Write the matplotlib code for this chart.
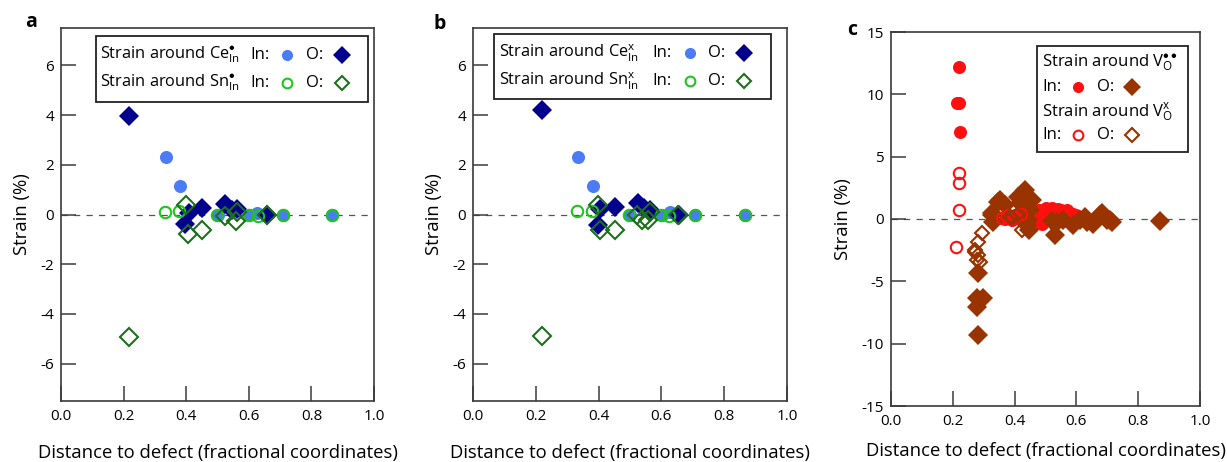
import matplotlib
matplotlib.use("Agg")
import matplotlib.pyplot as plt
from matplotlib.lines import Line2D
from matplotlib.patches import Rectangle

FONT = 'Open Sans'
plt.rcParams['font.family'] = [FONT, 'DejaVu Sans']
plt.rcParams['mathtext.fontset'] = 'custom'
plt.rcParams['mathtext.rm'] = FONT
plt.rcParams['mathtext.it'] = FONT + ':italic'
plt.rcParams['axes.unicode_minus'] = False

# ---------------- data ----------------
# Panel a : Ce'In / Sn'In (charged)
a_ce_in_x = [0.334, 0.380, 0.500, 0.600, 0.627, 0.708, 0.865]
a_ce_in_y = [2.30, 1.15, 0.00, 0.00, 0.08, 0.00, 0.00]
a_ce_o_x = [0.218, 0.396, 0.410, 0.450, 0.525, 0.545, 0.563, 0.657]
a_ce_o_y = [3.95, -0.38, 0.05, 0.25, 0.42, 0.20, 0.22, -0.03]
a_sn_in_x = [0.332, 0.377, 0.497, 0.600, 0.628, 0.708, 0.867]
a_sn_in_y = [0.09, 0.16, -0.03, 0.00, -0.06, 0.00, 0.00]
a_sn_o_x = [0.218, 0.398, 0.405, 0.451, 0.525, 0.563, 0.560, 0.658]
a_sn_o_y = [-4.92, 0.38, -0.77, -0.62, -0.06, 0.10, -0.26, -0.03]

# Panel b : Ce x In / Sn x In (neutral)
b_ce_in_x = [0.333, 0.381, 0.500, 0.601, 0.627, 0.707, 0.866]
b_ce_in_y = [2.31, 1.15, 0.00, 0.00, 0.10, 0.00, 0.00]
b_ce_o_x = [0.219, 0.399, 0.404, 0.452, 0.526, 0.545, 0.564, 0.655]
b_ce_o_y = [4.20, -0.42, 0.22, 0.30, 0.45, 0.25, 0.20, -0.03]
b_sn_in_x = [0.332, 0.378, 0.497, 0.600, 0.625, 0.707, 0.866]
b_sn_in_y = [0.13, 0.13, 0.00, 0.00, -0.05, 0.00, 0.00]
b_sn_o_x = [0.219, 0.397, 0.404, 0.452, 0.523, 0.537, 0.564, 0.558, 0.654]
b_sn_o_y = [-4.87, 0.38, -0.62, -0.63, -0.03, -0.23, 0.10, -0.23, 0.00]

# Panel c : V_O.. / V_O x
c_vc_in_x = [0.221, 0.213, 0.221, 0.223,
             0.37, 0.38, 0.39, 0.40, 0.41, 0.42, 0.43, 0.44, 0.45, 0.46,
             0.47, 0.48, 0.49, 0.50, 0.50, 0.51, 0.51, 0.52, 0.52, 0.53,
             0.53, 0.54, 0.54, 0.55, 0.55, 0.56, 0.56, 0.57, 0.57, 0.58,
             0.58, 0.59, 0.60, 0.62, 0.64, 0.47, 0.49, 0.45]
c_vc_in_y = [12.16, 9.30, 9.30, 6.97,
             0.0, 0.2, -0.1, 0.3, 0.1, 0.4, -0.2, 0.5, 0.2, 0.6,
             0.3, 0.7, 0.1, 0.9, 0.4, 0.8, 0.2, 0.9, 0.5, 0.7,
             0.0, 0.8, 0.3, 0.7, 0.1, 0.6, 0.3, 0.7, 0.0, 0.5,
             0.2, 0.4, 0.3, 0.1, 0.0, -0.3, -0.4, 0.0]
c_vc_o_x = [0.283, 0.277, 0.299, 0.277, 0.283,
            0.326, 0.328, 0.331, 0.347, 0.353, 0.369, 0.412, 0.417, 0.428,
            0.434, 0.450, 0.455, 0.439, 0.444, 0.448, 0.520, 0.531, 0.536,
            0.558, 0.590, 0.612, 0.628, 0.633, 0.655, 0.676, 0.682, 0.698,
            0.709, 0.714, 0.871]
c_vc_o_y = [-4.37, -6.30, -6.30, -7.05, -9.33,
            0.32, 0.46, -0.22, 1.39, 1.53, 1.13, 1.80, 1.26, 2.07,
            2.33, 0.72, 1.53, -0.48, -0.08, -0.88, -0.20, -1.29, -0.22,
            -0.08, -0.48, -0.08, 0.18, -0.22, -0.40, 0.32, 0.46, -0.08,
            -0.08, -0.22, -0.13]
c_vx_in_x = [0.221, 0.221, 0.220, 0.210, 0.36, 0.38, 0.40, 0.42]
c_vx_in_y = [3.72, 2.92, 0.72, -2.23, 0.10, 0.30, 0.20, 0.40]
c_vx_o_x = [0.293, 0.283, 0.272, 0.283, 0.277, 0.288, 0.272,
            0.423, 0.385, 0.407, 0.390]
c_vx_o_y = [-1.15, -1.82, -2.49, -2.89, -3.30, -3.43, -2.63,
            -0.88, 0.18, 0.32, 0.05]

x_ticks = [0.0, 0.2, 0.4, 0.6, 0.8, 1.0]
ab_yticks = [-6, -4, -2, 0, 2, 4, 6]
c_yticks = [-15, -10, -5, 0, 5, 10, 15]

# ---------------- styles ----------------
LBLUE = '#4b7bf5'
NAVY = '#00008c'
LGREEN = '#1fc41f'
DGREEN = '#1e6e1e'
RED = '#ff1010'
BROWN = '#993300'
SPINE = '#3a3a3a'

W, H = 1227, 462
fig = plt.figure(figsize=(W / 100, H / 100), dpi=100)


def fx(px):
    return px / W


def fy(py):
    return 1 - py / H


def make_ax(l, r, t, b):
    return fig.add_axes([fx(l), fy(b), fx(r) - fx(l), fy(t) - fy(b)])


def style_ax(ax, ylim, yticks, xlabelpad=14):
    ax.set_xlim(0, 1)
    ax.set_ylim(*ylim)
    ax.set_xticks(x_ticks)
    ax.set_xticklabels([f"{v:.1f}" for v in x_ticks])
    ax.set_yticks(yticks)
    ax.set_yticklabels([str(v) for v in yticks])
    ax.tick_params(direction='in', length=10.5, width=1.1, color=SPINE,
                   labelsize=11, top=False, right=False, pad=5)
    ax.tick_params(axis='x', pad=6)
    for s in ax.spines.values():
        s.set_color(SPINE)
        s.set_linewidth(1.2)
    ax.axhline(0, color='#555555', lw=0.9, ls=(0, (5, 5)), zorder=1)
    ax.set_xlabel('Distance to defect (fractional coordinates)', fontsize=13.3,
                  labelpad=xlabelpad)
    ax.set_ylabel('Strain (%)', fontsize=13.3, labelpad=7)


def circ(ax, x, y, filled, color, ms=9.4, **kw):
    if filled:
        ax.plot(x, y, 'o', ms=ms, mfc=color, mec=color, mew=0, ls='none', **kw)
    else:
        ax.plot(x, y, 'o', ms=ms - 1.2, mfc='none', mec=color, mew=1.5, ls='none', **kw)


def diam(ax, x, y, filled, color, ms=10.5, **kw):
    if filled:
        ax.plot(x, y, 'D', ms=ms, mfc=color, mec=color, mew=0, ls='none', **kw)
    else:
        ax.plot(x, y, 'D', ms=ms - 1.5, mfc='none', mec=color, mew=1.5, ls='none', **kw)


def fig_marker(px, py, marker, filled, color, ms):
    if filled:
        ln = Line2D([fx(px)], [fy(py)], marker=marker, ms=ms, mfc=color, mec=color,
                    mew=0, ls='none', transform=fig.transFigure, zorder=8)
    else:
        ln = Line2D([fx(px)], [fy(py)], marker=marker, ms=ms, mfc='none', mec=color,
                    mew=1.5, ls='none', transform=fig.transFigure, zorder=8)
    fig.add_artist(ln)


def fig_text(px, py, s, fs=12, **kw):
    fig.text(fx(px), fy(py), s, va='center', ha='left', fontsize=fs, zorder=8, **kw)


def fig_box(l, t, r, b):
    fig.add_artist(Rectangle((fx(l), fy(b)), fx(r) - fx(l), fy(t) - fy(b),
                             transform=fig.transFigure, fill=True, fc='white',
                             ec='#222222', lw=1.3, zorder=5))


# ---------------- panel a ----------------
ax_a = make_ax(61, 374, 28, 401)
style_ax(ax_a, (-7.5, 7.5), ab_yticks)
circ(ax_a, a_ce_in_x, a_ce_in_y, True, LBLUE, zorder=3)
diam(ax_a, a_ce_o_x, a_ce_o_y, True, NAVY, zorder=4)
circ(ax_a, a_sn_in_x, a_sn_in_y, False, LGREEN, zorder=5)
diam(ax_a, a_sn_o_x, a_sn_o_y, False, DGREEN, zorder=6)

# ---------------- panel b ----------------
ax_b = make_ax(473, 787, 28, 401)
style_ax(ax_b, (-7.5, 7.5), ab_yticks)
circ(ax_b, b_ce_in_x, b_ce_in_y, True, LBLUE, zorder=3)
diam(ax_b, b_ce_o_x, b_ce_o_y, True, NAVY, zorder=4)
circ(ax_b, b_sn_in_x, b_sn_in_y, False, LGREEN, zorder=5)
diam(ax_b, b_sn_o_x, b_sn_o_y, False, DGREEN, zorder=6)

# ---------------- panel c ----------------
ax_c = make_ax(891, 1200, 32, 406)
style_ax(ax_c, (-15, 15), c_yticks, xlabelpad=9)
circ(ax_c, c_vc_in_x, c_vc_in_y, True, RED, ms=9.4, zorder=3)
diam(ax_c, c_vc_o_x, c_vc_o_y, True, BROWN, ms=10.5, zorder=4)
circ(ax_c, c_vx_in_x, c_vx_in_y, False, RED, ms=9.4, zorder=5)
diam(ax_c, c_vx_o_x, c_vx_o_y, False, BROWN, ms=9, zorder=6)

# panel letters
fig.text(fx(31), fy(22), 'a', fontsize=14, fontweight='bold', ha='center', va='center')
fig.text(fx(440), fy(24), 'b', fontsize=14, fontweight='bold', ha='center', va='center')
fig.text(fx(852), fy(30), 'c', fontsize=14, fontweight='bold', ha='center', va='center')

# ---------------- legends ----------------
# a
fig_box(96, 36, 368, 102)
fig_text(100, 55, r'Strain around Ce$^{\bullet}_{\mathrm{In}}$', fs=11.8)
fig_text(100, 83, r'Strain around Sn$^{\bullet}_{\mathrm{In}}$', fs=11.8)
for py, cf, cc, df, dc in [(55, True, LBLUE, True, NAVY), (83, False, LGREEN, False, DGREEN)]:
    fig_text(250, py, 'In:')
    fig_text(306, py, 'O:')
    fig_marker(287, py, 'o', cf, cc, 8 if cf else 7)
    fig_marker(342, py, 'D', df, dc, 9 if df else 7.5)

# b
fig_box(494, 34, 771, 99)
fig_text(499, 53, r'Strain around Ce$^{\mathrm{x}}_{\mathrm{In}}$', fs=11.8)
fig_text(499, 81, r'Strain around Sn$^{\mathrm{x}}_{\mathrm{In}}$', fs=11.8)
for py, cf, cc, df, dc in [(53, True, LBLUE, True, NAVY), (81, False, LGREEN, False, DGREEN)]:
    fig_text(652, py, 'In:')
    fig_text(708, py, 'O:')
    fig_marker(690, py, 'o', cf, cc, 8 if cf else 7)
    fig_marker(744, py, 'D', df, dc, 9 if df else 7.5)

# c
fig_box(1037, 46, 1188, 152)
fig_text(1042, 63, r'Strain around V$_{\mathrm{O}}^{\bullet\bullet}$')
fig_text(1042, 113, r'Strain around V$_{\mathrm{O}}^{\mathrm{x}}$')
for py, filled in [(87, True), (135, False)]:
    fig_text(1042, py, 'In:')
    fig_text(1097, py, 'O:')
    fig_marker(1078, py, 'o', filled, RED, 8 if filled else 7)
    fig_marker(1132, py, 'D', filled, BROWN, 9 if filled else 7.5)

fig.savefig('out.png', dpi=100)
